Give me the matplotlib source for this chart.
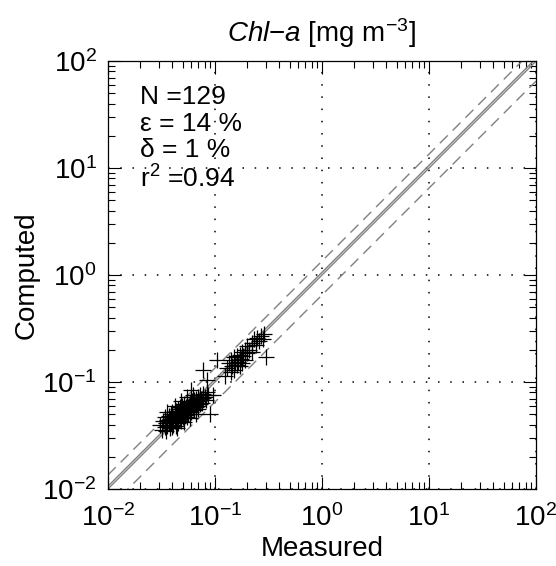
import numpy as np
import matplotlib
matplotlib.use("Agg")
import matplotlib.pyplot as plt

plt.rcParams['font.family'] = ['Liberation Sans', 'DejaVu Sans']
plt.rcParams['mathtext.fontset'] = 'custom'
plt.rcParams['mathtext.rm'] = 'Liberation Sans'
plt.rcParams['mathtext.it'] = 'Liberation Sans:italic'
plt.rcParams['mathtext.bf'] = 'Liberation Sans:bold'

# измеренные / рассчитанные значения (нижний кластер)
meas_low = [
    0.031, 0.032, 0.033, 0.034, 0.034, 0.035, 0.035, 0.036, 0.036, 0.037,
    0.037, 0.038, 0.038, 0.039, 0.039, 0.040, 0.040, 0.040, 0.041, 0.041,
    0.042, 0.042, 0.043, 0.043, 0.044, 0.044, 0.045, 0.045, 0.045, 0.046,
    0.046, 0.047, 0.047, 0.048, 0.048, 0.049, 0.049, 0.050, 0.050, 0.050,
    0.051, 0.051, 0.052, 0.052, 0.053, 0.053, 0.054, 0.054, 0.055, 0.055,
    0.056, 0.056, 0.057, 0.058, 0.058, 0.059, 0.060, 0.060, 0.061, 0.062,
    0.063, 0.064, 0.064, 0.065, 0.066, 0.067, 0.068, 0.069, 0.070, 0.071,
    0.072, 0.073, 0.074, 0.075, 0.077, 0.078, 0.080, 0.082, 0.084, 0.086,
    0.036, 0.042, 0.048, 0.055, 0.062, 0.044, 0.052, 0.058, 0.066, 0.070]
comp_low = [
    0.040, 0.036, 0.043, 0.038, 0.047, 0.041, 0.035, 0.044, 0.039, 0.048,
    0.042, 0.037, 0.045, 0.050, 0.041, 0.044, 0.038, 0.052, 0.046, 0.040,
    0.049, 0.043, 0.054, 0.039, 0.047, 0.051, 0.044, 0.056, 0.041, 0.049,
    0.053, 0.045, 0.058, 0.048, 0.043, 0.052, 0.060, 0.047, 0.055, 0.050,
    0.046, 0.057, 0.051, 0.062, 0.049, 0.055, 0.059, 0.052, 0.047, 0.063,
    0.056, 0.050, 0.060, 0.054, 0.065, 0.058, 0.053, 0.062, 0.067, 0.057,
    0.061, 0.055, 0.068, 0.063, 0.059, 0.070, 0.064, 0.060, 0.072, 0.066,
    0.062, 0.075, 0.069, 0.064, 0.078, 0.071, 0.073, 0.068, 0.080, 0.076,
    0.052, 0.060, 0.066, 0.072, 0.075, 0.037, 0.042, 0.046, 0.050, 0.056]

# верхний кластер
meas_high = [0.125, 0.13, 0.135, 0.14, 0.14, 0.145, 0.15, 0.15, 0.155, 0.16,
             0.16, 0.165, 0.17, 0.17, 0.175, 0.18, 0.18, 0.185, 0.19, 0.19,
             0.20, 0.20, 0.21, 0.22, 0.22, 0.23, 0.24, 0.25, 0.26, 0.27,
             0.28, 0.29, 0.30]
comp_high = [0.115, 0.135, 0.150, 0.125, 0.160, 0.140, 0.130, 0.170, 0.150, 0.145,
             0.175, 0.155, 0.140, 0.180, 0.165, 0.190, 0.150, 0.175, 0.200, 0.160,
             0.215, 0.185, 0.200, 0.230, 0.190, 0.250, 0.220, 0.260, 0.240, 0.270,
             0.250, 0.280, 0.170]

# выбросы
meas_out = [0.077, 0.085, 0.090, 0.060, 0.095, 0.105]
comp_out = [0.130, 0.105, 0.050, 0.085, 0.075, 0.160]

measured = meas_low + meas_high + meas_out
computed = comp_low + comp_high + comp_out

stats_text = "N =129\nε = 14 %\nδ = 1 %\nr$^2$ =0.94"

fig = plt.figure(figsize=(5.56, 5.66), dpi=100)
ax = fig.add_axes([0.194, 0.136, 0.77, 0.756])

lims = np.array([1e-2, 1e2])
ax.plot(lims, lims, color='gray', lw=1.0, zorder=2)
ax.plot(lims, lims * 1.06, color='gray', lw=1.0, zorder=2)
ax.plot(lims, lims * 1.35, color='gray', lw=1.0, ls=(0, (8, 5)), zorder=2)
ax.plot(lims, lims * 0.65, color='gray', lw=1.0, ls=(0, (8, 5)), zorder=2)

ax.plot(measured, computed, '+', color='black', markersize=11, mew=0.9, zorder=3)

ax.set_xscale('log')
ax.set_yscale('log')
ax.set_xlim(1e-2, 1e2)
ax.set_ylim(1e-2, 1e2)
ax.set_xticks([1e-2, 1e-1, 1e0, 1e1, 1e2])
ax.set_yticks([1e-2, 1e-1, 1e0, 1e1, 1e2])

ax.grid(True, which='major', color='black', ls=(0, (1, 7)), lw=1.1)
ax.tick_params(which='both', direction='in', top=True, right=True, labelsize=20)
ax.tick_params(axis='x', pad=11)
ax.tick_params(axis='y', pad=8)
ax.tick_params(which='major', length=9, width=0.8)
ax.tick_params(which='minor', length=5, width=0.8)
for s in ax.spines.values():
    s.set_linewidth(0.9)

ax.set_xlabel("Measured", fontsize=20, labelpad=3)
ax.set_ylabel("Computed", fontsize=20, labelpad=2)
ax.set_title(r"$\mathit{Chl}$−$\mathit{a}$ [mg m$^{-3}$]", fontsize=20, pad=14)

ax.text(0.075, 0.945, stats_text, transform=ax.transAxes, fontsize=19,
        va='top', ha='left', linespacing=1.15)

fig.savefig("out.png", dpi=100)
